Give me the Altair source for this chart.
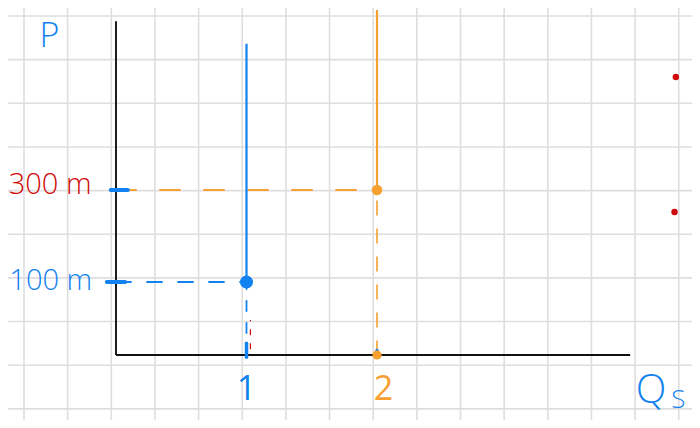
import altair as alt
import pandas as pd

# ---------------- data ----------------
grid_cols = list(range(16))          # graph-paper column index
grid_rows = list(range(10))          # graph-paper row index

series = ["blue", "orange"]
quantities = [1, 2]                  # Q_S
prices = [100, 300]                  # P
curve_tops = [625, 700]              # upper end of each vertical supply line

axis_x_end = 3.94
axis_y_end = 675

y_tick_values = [100, 300]
y_tick_labels = ["100 m", "300 m"]
y_tick_label_series = ["blue", "red"]
x_tick_values = [1, 2]
x_tick_labels = ["1", "2"]
x_tick_label_series = ["blue", "orange"]

red_dot_x = [4.29, 4.28]
red_dot_y = [551, 252]

BLUE = "#1282f0"
ORANGE = "#f5a030"
RED = "#d00a0a"
BLACK = "#111111"
GRIDC = "#dedede"
colors = {"blue": BLUE, "orange": ORANGE, "red": RED}

W, H = 684, 412
FONT = "Open Sans"

# ---------------- scales ----------------
unit = 130.5
xmin = -108 / unit
xscale = alt.Scale(domain=[xmin, xmin + W / unit], nice=False, zero=False)
yscale = alt.Scale(domain=[-90, 0, 100, 300, 700], range=[412, 347, 274, 182, 2],
                   nice=False, zero=False)

gs = 43.65
gx = alt.Scale(domain=[-16 / gs, (W - 16) / gs], nice=False, zero=False)
gy = alt.Scale(domain=[-8 / gs, (H - 8) / gs], nice=False, zero=False, reverse=True)

# ---------------- grid ----------------
vgrid = alt.Chart(pd.DataFrame({"g": grid_cols})).mark_rule(
    color=GRIDC, strokeWidth=1.6).encode(x=alt.X("g:Q", scale=gx, axis=None))
hgrid = alt.Chart(pd.DataFrame({"g": grid_rows})).mark_rule(
    color=GRIDC, strokeWidth=1.6).encode(y=alt.Y("g:Q", scale=gy, axis=None))
grid = alt.layer(vgrid, hgrid)

# ---------------- main ----------------
X = lambda f: alt.X(f, type="quantitative", scale=xscale, axis=None)
Y = lambda f: alt.Y(f, type="quantitative", scale=yscale, axis=None)

df = pd.DataFrame({"s": series, "q": quantities, "p": prices, "top": curve_tops,
                   "zero": [0, 0]})
df["col"] = df["s"].map(colors)

axes_df = pd.DataFrame({"x": [0, 0], "y": [0, 0], "x2": [0, axis_x_end],
                        "y2": [axis_y_end, 0]})
axes = alt.Chart(axes_df).mark_rule(color=BLACK, strokeWidth=1.9).encode(
    x=X("x"), y=Y("y"), x2="x2", y2="y2")

supply = alt.Chart(df).mark_rule(strokeWidth=2.2).encode(
    x=X("q"), y=Y("p"), y2="top", color=alt.Color("col:N", scale=None))

hdash_b = alt.Chart(df[df.s == "blue"]).mark_rule(
    strokeWidth=1.8, strokeDash=[15, 16], strokeCap="round").encode(
    x=X("zero"), x2="q", y=Y("p"), color=alt.Color("col:N", scale=None))
hdash_o = alt.Chart(df[df.s == "orange"]).mark_rule(
    strokeWidth=1.8, strokeDash=[20, 24], strokeCap="round").encode(
    x=X("zero"), x2="q", y=Y("p"), color=alt.Color("col:N", scale=None))
vdash_b = alt.Chart(df[df.s == "blue"]).mark_rule(
    strokeWidth=1.8, strokeDash=[10, 12], strokeCap="round").encode(
    x=X("q"), y=Y("zero"), y2="p", color=alt.Color("col:N", scale=None))
vdash_o = alt.Chart(df[df.s == "orange"]).mark_rule(
    strokeWidth=1.6, strokeDash=[14, 14], strokeCap="round").encode(
    x=X("q"), y=Y("zero"), y2="p", color=alt.Color("col:N", scale=None))

points = alt.Chart(df).mark_point(filled=True, opacity=1, shape="circle").encode(
    x=X("q"), y=Y("p"), color=alt.Color("col:N", scale=None),
    size=alt.Size("s:N", scale=alt.Scale(domain=series, range=[170, 110]), legend=None))

# orange dot on the Q axis at Q=2
base_dot = alt.Chart(df[df.s == "orange"]).mark_point(
    filled=True, opacity=1, shape="circle", size=85).encode(
    x=X("q"), y=Y("zero"), color=alt.Color("col:N", scale=None))

# blue tick marks on axes
ytick_df = pd.DataFrame({"v": y_tick_values, "a": [-0.07, -0.04], "b": [0.07, 0.09]})
yticks = alt.Chart(ytick_df).mark_rule(color=BLUE, strokeWidth=4, strokeCap="round").encode(
    x=X("a"), x2="b", y=Y("v"))
xtick_df = pd.DataFrame({"v": x_tick_values, "a": [-3, 0], "b": [16, 6]})
xticks = alt.Chart(xtick_df).mark_rule(color=BLUE, strokeWidth=3.5, strokeCap="round").encode(
    x=X("v"), y=Y("a"), y2="b")

# small red dashes near Q=1
red_dash = alt.Chart(pd.DataFrame({"x": [1.03], "a": [8], "b": [48]})).mark_rule(
    color=RED, strokeWidth=1.2, strokeDash=[6, 8]).encode(x=X("x"), y=Y("a"), y2="b")

red_dots = alt.Chart(pd.DataFrame({"x": red_dot_x, "y": red_dot_y})).mark_point(
    filled=True, opacity=1, color=RED, size=42).encode(x=X("x"), y=Y("y"))

# labels
ylab_df = pd.DataFrame({"t": y_tick_labels, "v": [103, 311], "x": [-0.5, -0.505],
                        "col": [colors[c] for c in y_tick_label_series]})
ylabels = alt.Chart(ylab_df).mark_text(font=FONT, fontSize=29, fontWeight=300,
                                       baseline="middle").encode(
    x=X("x"), y=Y("v"), text="t:N", color=alt.Color("col:N", scale=None))

xlab_df = pd.DataFrame({"t": x_tick_labels, "q": [1.0, 2.05], "y": [-48, -48],
                        "col": [colors[c] for c in x_tick_label_series]})
xlabels = alt.Chart(xlab_df).mark_text(font=FONT, fontSize=34, fontWeight=400,
                                       baseline="middle").encode(
    x=X("q"), y=Y("y"), text="t:N", color=alt.Color("col:N", scale=None))

ptitle = alt.Chart(pd.DataFrame({"t": ["P"], "x": [-0.51], "y": [640]})).mark_text(
    font=FONT, fontSize=34, fontWeight=300, color=BLUE, baseline="middle").encode(
    x=X("x"), y=Y("y"), text="t:N")
qtitle = alt.Chart(pd.DataFrame({"t": ["Q"], "x": [4.1], "y": [-50]})).mark_text(
    font=FONT, fontSize=40, fontWeight=300, color=BLUE, baseline="middle").encode(
    x=X("x"), y=Y("y"), text="t:N")
qsub = alt.Chart(pd.DataFrame({"t": ["S"], "x": [4.31], "y": [-62]})).mark_text(
    font=FONT, fontSize=26, fontWeight=300, color=BLUE, baseline="middle").encode(
    x=X("x"), y=Y("y"), text="t:N")

main = alt.layer(axes, hdash_b, hdash_o, vdash_b, vdash_o, supply, red_dash,
                 yticks, xticks, base_dot, points, red_dots,
                 ylabels, xlabels, ptitle, qtitle, qsub)

chart = alt.layer(grid, main).resolve_scale(x="independent", y="independent").properties(
    width=W, height=H, padding=0, autosize=alt.AutoSizeParams(type="none"),
    background="white"
).configure_view(stroke=None)

chart.save("out.html", embed_options={"renderer": "svg", "actions": False})
